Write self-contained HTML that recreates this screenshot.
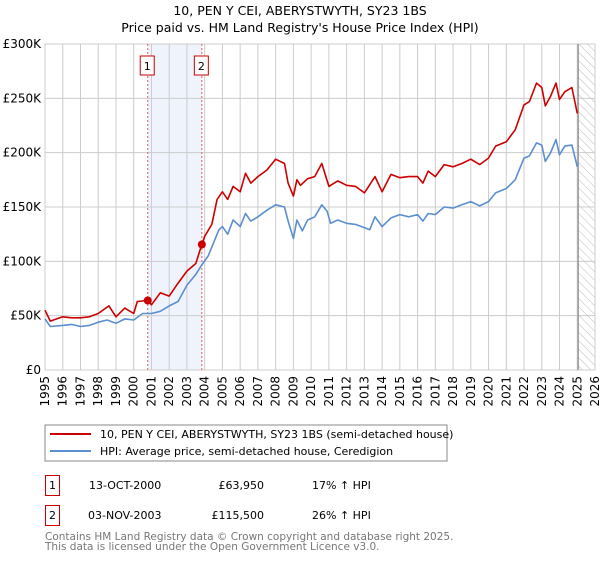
<!DOCTYPE html>
<html><head><meta charset="utf-8"><style>
body{margin:0;background:#fff;font-family:"DejaVu Sans","Liberation Sans",sans-serif;}
svg text{font-family:"DejaVu Sans","Liberation Sans",sans-serif;}
</style></head><body>
<svg id="c" width="600" height="560" xmlns="http://www.w3.org/2000/svg">
<defs><pattern id="hatch" width="6" height="6" patternUnits="userSpaceOnUse" patternTransform="rotate(-45)"><line x1="0" y1="0" x2="0" y2="6" stroke="#bbb" stroke-width="1"/></pattern></defs>
<text x="300" y="15" text-anchor="middle" font-size="12.5">10, PEN Y CEI, ABERYSTWYTH, SY23 1BS</text>
<text x="300" y="32" text-anchor="middle" font-size="12.5">Price paid vs. HM Land Registry's House Price Index (HPI)</text>
<g id="plot"></g>
<rect x="45" y="425" width="402" height="36" fill="#fff" stroke="#888"/>
<line x1="50" y1="434" x2="91" y2="434" stroke="#cc0000" stroke-width="2"/>
<text x="100" y="438" font-size="11">10, PEN Y CEI, ABERYSTWYTH, SY23 1BS (semi-detached house)</text>
<line x1="50" y1="451" x2="91" y2="451" stroke="#5b8fd0" stroke-width="2"/>
<text x="100" y="455" font-size="11">HPI: Average price, semi-detached house, Ceredigion</text>
<g font-size="11">
<rect x="45.5" y="475.5" width="14" height="20" fill="none" stroke="#cc0000"/>
<text x="52.5" y="489" text-anchor="middle">1</text>
<text x="89" y="489">13-OCT-2000</text>
<text x="264" y="489" text-anchor="end">£63,950</text>
<text x="312" y="489">17% ↑ HPI</text>
<rect x="45.5" y="505.5" width="14" height="20" fill="none" stroke="#cc0000"/>
<text x="52.5" y="519" text-anchor="middle">2</text>
<text x="88" y="519">03-NOV-2003</text>
<text x="264" y="519" text-anchor="end">£115,500</text>
<text x="312" y="519">26% ↑ HPI</text>
</g>
<text x="45" y="540" font-size="10.5" fill="#777">Contains HM Land Registry data © Crown copyright and database right 2025.</text>
<text x="45" y="550" font-size="10.5" fill="#777">This data is licensed under the Open Government Licence v3.0.</text>
</svg>
<script>
const hpiYears=[1995,1995.3,1996,1996.5,1997,1997.5,1998,1998.5,1999,1999.5,2000,2000.5,2001,2001.5,2002,2002.5,2003,2003.5,2003.85,2004.2,2004.5,2004.8,2005,2005.3,2005.6,2006,2006.3,2006.6,2007,2007.5,2008,2008.5,2008.7,2009,2009.2,2009.5,2009.8,2010.2,2010.6,2010.9,2011.1,2011.5,2012,2012.5,2013,2013.3,2013.6,2014,2014.5,2015,2015.5,2016,2016.3,2016.6,2017,2017.5,2018,2018.5,2019,2019.5,2020,2020.4,2021,2021.5,2022,2022.3,2022.7,2023,2023.2,2023.5,2023.8,2024,2024.3,2024.7,2025];
const hpiValues=[47,40,41,42,40,41,44,46,43,47,46,52,52,54,59,63,78,88,97,105,117,129,132,125,138,132,144,137,141,147,152,150,137,121,138,128,138,141,152,146,135,138,135,134,131,129,141,132,140,143,141,143,137,144,143,150,149,152,155,151,155,163,167,175,195,197,209,207,192,200,212,198,206,207,187];
const propYears=[1995,1995.3,1996,1996.5,1997,1997.5,1998,1998.6,1999,1999.5,2000,2000.2,2000.79,2001,2001.5,2002,2002.5,2003,2003.5,2003.84,2004,2004.4,2004.7,2005,2005.3,2005.6,2006,2006.3,2006.6,2007,2007.5,2008,2008.5,2008.7,2009,2009.2,2009.4,2009.8,2010.2,2010.6,2011,2011.5,2012,2012.5,2013,2013.6,2014,2014.5,2015,2015.5,2016,2016.3,2016.6,2017,2017.5,2018,2018.5,2019,2019.5,2020,2020.4,2021,2021.5,2022,2022.3,2022.7,2023,2023.2,2023.5,2023.8,2024,2024.3,2024.7,2025];
const propValues=[55,45,49,48,48,49,52,59,49,57,52,63,63.95,60,71,68,80,91,98,115.5,123,134,157,164,157,169,164,181,172,178,184,194,190,172,160,175,170,176,178,190,169,174,170,169,163,178,164,180,177,178,178,172,183,178,189,187,190,194,189,195,206,210,221,244,247,264,260,243,252,264,249,256,260,236];
const saleYears=[2000.79,2003.84];
const saleValues=[63.95,115.5];
const saleLabels=["1","2"];
const yTicks=[0,50,100,150,200,250,300];
const yTickLabels=["£0","£50K","£100K","£150K","£200K","£250K","£300K"];
const xTicks=[1995,1996,1997,1998,1999,2000,2001,2002,2003,2004,2005,2006,2007,2008,2009,2010,2011,2012,2013,2014,2015,2016,2017,2018,2019,2020,2021,2022,2023,2024,2025,2026];

const L=45,R=595,T=44,B=370,x0=1995,x1=2026,ymax=300,dataEnd=2025.05;
const sx=v=>L+(v-x0)/(x1-x0)*(R-L);
const sy=v=>B-v/ymax*(B-T);
const NS="http://www.w3.org/2000/svg";
const g=document.getElementById('plot');
function mk(t,a,p){const e=document.createElementNS(NS,t);for(const k in a)e.setAttribute(k,a[k]);(p||g).appendChild(e);return e;}

const shade=mk('rect',{x:sx(saleYears[0]),y:T,width:sx(saleYears[1])-sx(saleYears[0]),height:B-T,fill:'#eef3fc'});


const hat=mk('rect',{x:sx(dataEnd),y:T,width:R-sx(dataEnd),height:B-T,fill:'url(#hatch)'});



yTicks.forEach((v,i)=>{
  const l=mk('line',{x1:L,x2:R,y1:sy(v),y2:sy(v),stroke:'#ccc','stroke-width':1});
  
  
  const t=mk('text',{x:L-4,y:sy(v)+4,'text-anchor':'end','font-size':12});
  t.textContent=yTickLabels[i];
  
  
});
xTicks.forEach(v=>{
  const l=mk('line',{x1:sx(v),x2:sx(v),y1:T,y2:B,stroke:'#ccc','stroke-width':1});
  
  
  const t=mk('text',{x:0,y:0,'text-anchor':'end','font-size':12,transform:`translate(${sx(v)+4},${B+6}) rotate(-90)`});
  t.textContent=v;
  
  
});
const ax=mk('rect',{x:L,y:T,width:R-L,height:B-T,fill:'none',stroke:'#ccc'});


const el=mk('line',{x1:sx(dataEnd),x2:sx(dataEnd),y1:T,y2:B,stroke:'#888','stroke-width':1.2});



saleYears.forEach((v,i)=>{
  const l=mk('line',{x1:sx(v),x2:sx(v),y1:T,y2:B,stroke:'#e06060','stroke-width':1,'stroke-dasharray':'2,2'});
  
  
  const r=mk('rect',{x:sx(v)-7.5,y:T+12,width:14,height:19,fill:'#fff',stroke:'#cc0000'});
  
  
  const t=mk('text',{x:sx(v)-0.5,y:T+26,'text-anchor':'middle','font-size':11});
  t.textContent=saleLabels[i];
  
  
});

function line(xs,ys,col,name){
  const d=xs.map((x,i)=>(i?'L':'M')+sx(x).toFixed(1)+','+sy(ys[i]).toFixed(1)).join('');
  const p=mk('path',{d:d,fill:'none',stroke:col,'stroke-width':1.6,'stroke-linejoin':'round'});
  
  
}
line(hpiYears,hpiValues,'#5b8fd0','hpi-line');
line(propYears,propValues,'#cc0000','property-line');
saleYears.forEach((v,i)=>{
  const c=mk('circle',{cx:sx(v),cy:sy(saleValues[i]),r:4,fill:'#cc0000'});
  
  
});
</script>
</body></html>
